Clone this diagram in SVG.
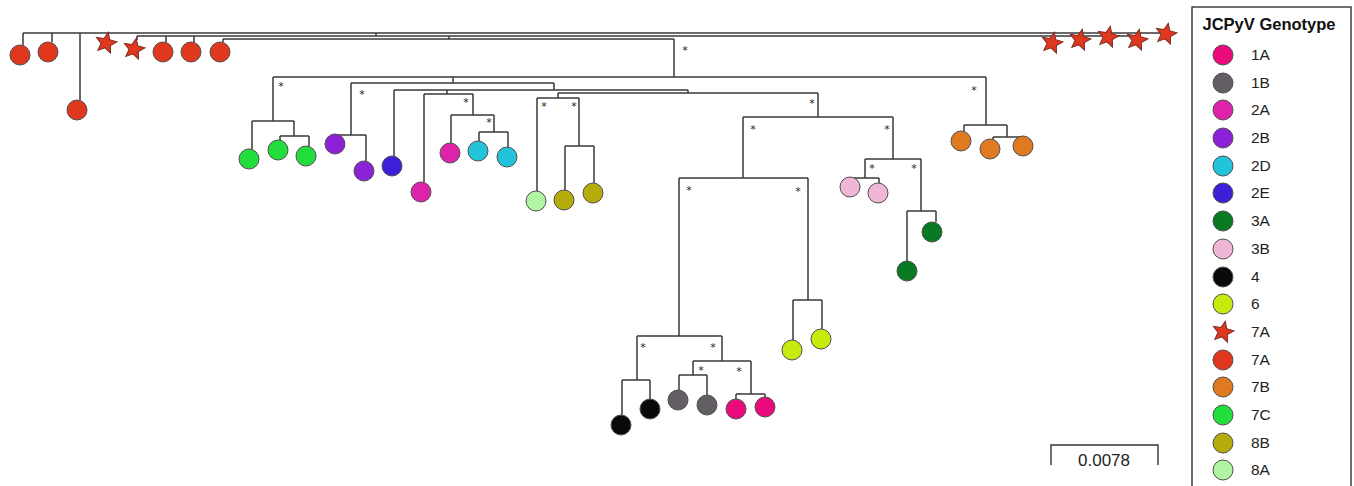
<svg xmlns="http://www.w3.org/2000/svg" width="1354" height="486" viewBox="0 0 1354 486">
<style>
.br{stroke:#3a3a3a;stroke-width:1.5;fill:none}
.lf{stroke:#505050;stroke-width:1}
.ast{font-family:"DejaVu Sans",sans-serif;font-size:11px;fill:#222;text-anchor:middle}
.lg{font-family:"Liberation Sans",Arial,sans-serif;font-size:15.5px;fill:#222}
.c1A{fill:#ea0a7c}.c1B{fill:#635e63}.c2A{fill:#de22aa}.c2B{fill:#8b22d8}.c2D{fill:#22c4da}
.c2E{fill:#3d1fd8}.c3A{fill:#087a22}.c3B{fill:#f0b6d6}.c4{fill:#0a0a0a}.c6{fill:#c8ea0c}
.c7A{fill:#e0381f}.c7B{fill:#e07a20}.c7C{fill:#22de3c}.c8B{fill:#b4ac0a}.c8A{fill:#b0f5a2}
</style>
<defs>
<path id="star" d="M0,-11 L2.94,-4.05 L10.46,-3.4 L4.76,1.55 L6.47,8.9 L0,5 L-6.47,8.9 L-4.76,1.55 L-10.46,-3.4 L-2.94,-4.05 Z" stroke="#7a2a20" stroke-width="1"/>
</defs>
<rect width="1354" height="486" fill="#fff"/>
<g id="connectors" class="br">
<path d="M23,33 H1166 M23,33 V45 M52,33 V42 M80,33 V100"/>
<path d="M137,36 H1137 M137,36 V40 M166,36 V42 M194,36 V42 M376,33 V36"/>
<path d="M223,39 H674 M223,39 V42 M449,36 V39"/>
<path d="M674,39 V77 M273,77 H986"/>
<path d="M986,77 V125 M964,125 H1007 M964,125 V131 M1007,125 V137 M993,137 H1023 M993,137 V139 M1023,137 V136"/>
<path d="M273,77 V121 M252,121 H294 M252,121 V149 M294,121 V136 M280,136 H309 M280,136 V140 M309,136 V146"/>
<path d="M453,77 V83 M351,83 H554 M351,83 V135 M335,135 H366 M335,135 V134 M366,135 V161"/>
<path d="M554,83 V90 M394,90 H688 M394,90 V156 M688,90 V93"/>
<path d="M447,90 V94 M424,94 H473 M424,94 V182 M473,94 V115 M451,115 H494 M451,115 V143 M494,115 V132 M479,132 H508 M479,132 V141 M508,132 V147"/>
<path d="M558,93 H818 M558,93 V98 M537,98 H579 M537,98 V191 M579,98 V146 M565,146 H594 M565,146 V190 M594,146 V183"/>
<path d="M818,93 V117 M743,117 H893"/>
<path d="M893,117 V159 M865,159 H921 M865,159 V178 M850,178 H879 M850,178 V177 M879,178 V183 M921,159 V211 M907,211 H936 M907,211 V261 M936,211 V222"/>
<path d="M743,117 V178 M679,178 H808 M808,178 V300 M793,300 H822 M793,300 V340 M822,300 V329"/>
<path d="M679,178 V336 M637,336 H722 M637,336 V380 M622,380 H650 M622,380 V415 M650,380 V399"/>
<path d="M722,336 V361 M693,361 H751 M693,361 V375 M679,375 H707 M679,375 V390 M707,375 V395 M751,361 V394 M736,394 H765 M736,394 V399 M765,394 V397"/>
</g>
<g id="support">
<text class="ast" x="685" y="54">*</text>
<text class="ast" x="281" y="90">*</text>
<text class="ast" x="362" y="98">*</text>
<text class="ast" x="466" y="106">*</text>
<text class="ast" x="489" y="126">*</text>
<text class="ast" x="544" y="110">*</text>
<text class="ast" x="574" y="110">*</text>
<text class="ast" x="812" y="107">*</text>
<text class="ast" x="753" y="133">*</text>
<text class="ast" x="887" y="133">*</text>
<text class="ast" x="872" y="172">*</text>
<text class="ast" x="914" y="172">*</text>
<text class="ast" x="689" y="194">*</text>
<text class="ast" x="798" y="195">*</text>
<text class="ast" x="974" y="94">*</text>
<text class="ast" x="643" y="351">*</text>
<text class="ast" x="713" y="351">*</text>
<text class="ast" x="701" y="374">*</text>
<text class="ast" x="739" y="375">*</text>
</g>
<g id="leaf-7A-c1"><circle class="lf c7A" cx="20" cy="55" r="10"/></g>
<g id="leaf-7A-c2"><circle class="lf c7A" cx="48" cy="52" r="10"/></g>
<g id="leaf-7A-c3"><circle class="lf c7A" cx="77" cy="110" r="10"/></g>
<g id="leaf-7A-s1"><use href="#star" class="c7A" transform="translate(106,43) rotate(12)"/></g>
<g id="leaf-7A-s2"><use href="#star" class="c7A" transform="translate(134,49) rotate(12)"/></g>
<g id="leaf-7A-c4"><circle class="lf c7A" cx="163" cy="52" r="10"/></g>
<g id="leaf-7A-c5"><circle class="lf c7A" cx="191" cy="52" r="10"/></g>
<g id="leaf-7A-c6"><circle class="lf c7A" cx="220" cy="52" r="10"/></g>
<g id="leaf-7A-s3"><use href="#star" class="c7A" transform="translate(1052,43) rotate(12)"/></g>
<g id="leaf-7A-s4"><use href="#star" class="c7A" transform="translate(1080,40) rotate(12)"/></g>
<g id="leaf-7A-s5"><use href="#star" class="c7A" transform="translate(1108,37) rotate(12)"/></g>
<g id="leaf-7A-s6"><use href="#star" class="c7A" transform="translate(1137,40) rotate(12)"/></g>
<g id="leaf-7A-s7"><use href="#star" class="c7A" transform="translate(1166,34) rotate(12)"/></g>
<g id="leaf-7C-1"><circle class="lf c7C" cx="249" cy="159" r="10"/></g>
<g id="leaf-7C-2"><circle class="lf c7C" cx="278" cy="150" r="10"/></g>
<g id="leaf-7C-3"><circle class="lf c7C" cx="306" cy="156" r="10"/></g>
<g id="leaf-2B-1"><circle class="lf c2B" cx="335" cy="144" r="10"/></g>
<g id="leaf-2B-2"><circle class="lf c2B" cx="364" cy="171" r="10"/></g>
<g id="leaf-2E-1"><circle class="lf c2E" cx="392" cy="166" r="10"/></g>
<g id="leaf-2A-1"><circle class="lf c2A" cx="421" cy="192" r="10"/></g>
<g id="leaf-2A-2"><circle class="lf c2A" cx="450" cy="153" r="10"/></g>
<g id="leaf-2D-1"><circle class="lf c2D" cx="478" cy="151" r="10"/></g>
<g id="leaf-2D-2"><circle class="lf c2D" cx="507" cy="157" r="10"/></g>
<g id="leaf-8A-1"><circle class="lf c8A" cx="536" cy="201" r="10"/></g>
<g id="leaf-8B-1"><circle class="lf c8B" cx="564" cy="200" r="10"/></g>
<g id="leaf-8B-2"><circle class="lf c8B" cx="593" cy="193" r="10"/></g>
<g id="leaf-4-1"><circle class="lf c4" cx="621" cy="425" r="10"/></g>
<g id="leaf-4-2"><circle class="lf c4" cx="650" cy="409" r="10"/></g>
<g id="leaf-1B-1"><circle class="lf c1B" cx="678" cy="400" r="10"/></g>
<g id="leaf-1B-2"><circle class="lf c1B" cx="707" cy="405" r="10"/></g>
<g id="leaf-1A-1"><circle class="lf c1A" cx="736" cy="409" r="10"/></g>
<g id="leaf-1A-2"><circle class="lf c1A" cx="765" cy="407" r="10"/></g>
<g id="leaf-6-1"><circle class="lf c6" cx="792" cy="350" r="10"/></g>
<g id="leaf-6-2"><circle class="lf c6" cx="821" cy="339" r="10"/></g>
<g id="leaf-3B-1"><circle class="lf c3B" cx="850" cy="187" r="10"/></g>
<g id="leaf-3B-2"><circle class="lf c3B" cx="878" cy="193" r="10"/></g>
<g id="leaf-3A-1"><circle class="lf c3A" cx="907" cy="271" r="10"/></g>
<g id="leaf-3A-2"><circle class="lf c3A" cx="932" cy="232" r="10"/></g>
<g id="leaf-7B-1"><circle class="lf c7B" cx="961" cy="141" r="10"/></g>
<g id="leaf-7B-2"><circle class="lf c7B" cx="990" cy="149" r="10"/></g>
<g id="leaf-7B-3"><circle class="lf c7B" cx="1023" cy="146" r="10"/></g>
<g id="scalebar">
<path d="M1051,465 V445 H1158 V465" fill="none" stroke="#333" stroke-width="1.4"/>
<text x="1104" y="466" font-family="Liberation Sans, Arial, sans-serif" font-size="17" fill="#222" text-anchor="middle">0.0078</text>
</g>
<g id="legend">
<rect x="1192" y="7" width="159" height="490" fill="#fff" stroke="#333" stroke-width="1.4"/>
<text x="1269" y="30" font-family="Liberation Sans, Arial, sans-serif" font-size="16.5" font-weight="bold" fill="#111" text-anchor="middle">JCPyV Genotype</text>
<circle class="lf c1A" cx="1223" cy="55" r="10"/><text class="lg" x="1251" y="60">1A</text>
<circle class="lf c1B" cx="1223" cy="83" r="10"/><text class="lg" x="1251" y="88">1B</text>
<circle class="lf c2A" cx="1223" cy="110" r="10"/><text class="lg" x="1251" y="115">2A</text>
<circle class="lf c2B" cx="1223" cy="138" r="10"/><text class="lg" x="1251" y="143">2B</text>
<circle class="lf c2D" cx="1223" cy="166" r="10"/><text class="lg" x="1251" y="171">2D</text>
<circle class="lf c2E" cx="1223" cy="193" r="10"/><text class="lg" x="1251" y="198">2E</text>
<circle class="lf c3A" cx="1223" cy="221" r="10"/><text class="lg" x="1251" y="226">3A</text>
<circle class="lf c3B" cx="1223" cy="249" r="10"/><text class="lg" x="1251" y="254">3B</text>
<circle class="lf c4" cx="1223" cy="277" r="10"/><text class="lg" x="1251" y="282">4</text>
<circle class="lf c6" cx="1223" cy="304" r="10"/><text class="lg" x="1251" y="309">6</text>
<use href="#star" class="c7A" transform="translate(1223,332) rotate(12)"/><text class="lg" x="1251" y="337">7A</text>
<circle class="lf c7A" cx="1223" cy="360" r="10"/><text class="lg" x="1251" y="365">7A</text>
<circle class="lf c7B" cx="1223" cy="387" r="10"/><text class="lg" x="1251" y="392">7B</text>
<circle class="lf c7C" cx="1223" cy="415" r="10"/><text class="lg" x="1251" y="420">7C</text>
<circle class="lf c8B" cx="1223" cy="443" r="10"/><text class="lg" x="1251" y="448">8B</text>
<circle class="lf c8A" cx="1223" cy="470" r="10"/><text class="lg" x="1251" y="475">8A</text>
</g>
</svg>
